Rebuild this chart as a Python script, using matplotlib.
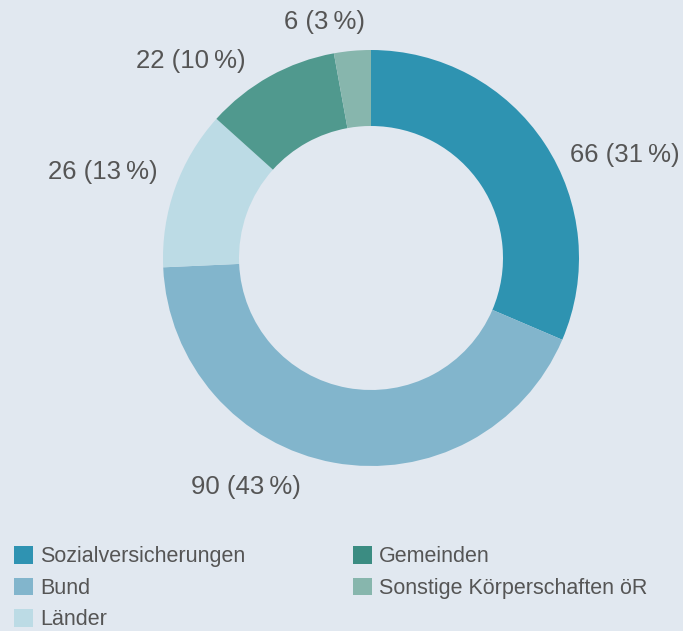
import matplotlib
matplotlib.use("Agg")
import matplotlib.pyplot as plt
from matplotlib.patches import Patch

categories = ["Sozialversicherungen", "Bund", "Länder", "Gemeinden", "Sonstige Körperschaften öR"]
values = [66, 90, 26, 22, 6]
labels = ["66 (31\u2009%)", "90 (43\u2009%)", "26 (13\u2009%)", "22 (10\u2009%)", "6 (3\u2009%)"]
wedge_colors = ["#2e93b1", "#82b5cc", "#bcdbe5", "#50998e", "#87b6ad"]
legend_colors = ["#2f93b2", "#82b5cc", "#bcdbe5", "#3b8c82", "#87b6ad"]

BG = "#e1e8f0"
TXT = "#555555"
plt.rcParams["font.family"] = ["Liberation Sans", "DejaVu Sans"]

W, H = 683, 631
fig = plt.figure(figsize=(W / 100, H / 100), dpi=100, facecolor=BG)
ax = fig.add_axes([0, 0, 1, 1])
ax.set_facecolor(BG)

cx, cy, R = 371, H - 258, 208
ax.pie(values, colors=wedge_colors, startangle=90, counterclock=False,
       center=(cx, cy), radius=R, wedgeprops=dict(width=76, linewidth=0))
ax.set_xlim(0, W)
ax.set_ylim(0, H)
ax.set_aspect("equal")
ax.axis("off")

label_pos = [(625, 155), (246, 487), (103, 172), (191, 61), (325, 22)]
for (x, y), t in zip(label_pos, labels):
    ax.text(x, H - y, t, ha="center", va="center", fontsize=18.5, color=TXT)

handles = [Patch(facecolor=c, edgecolor="none") for c in legend_colors]
leg = fig.legend(handles, categories, loc="upper left", bbox_to_anchor=(14 / W, 1 - 546 / H),
                 ncol=2, frameon=False, fontsize=15.5, labelcolor=TXT,
                 handlelength=0.88, handleheight=0.88, handletextpad=0.33,
                 columnspacing=5.0, labelspacing=0.48, borderpad=0, borderaxespad=0)

fig.savefig("out.png", dpi=100, facecolor=BG)
